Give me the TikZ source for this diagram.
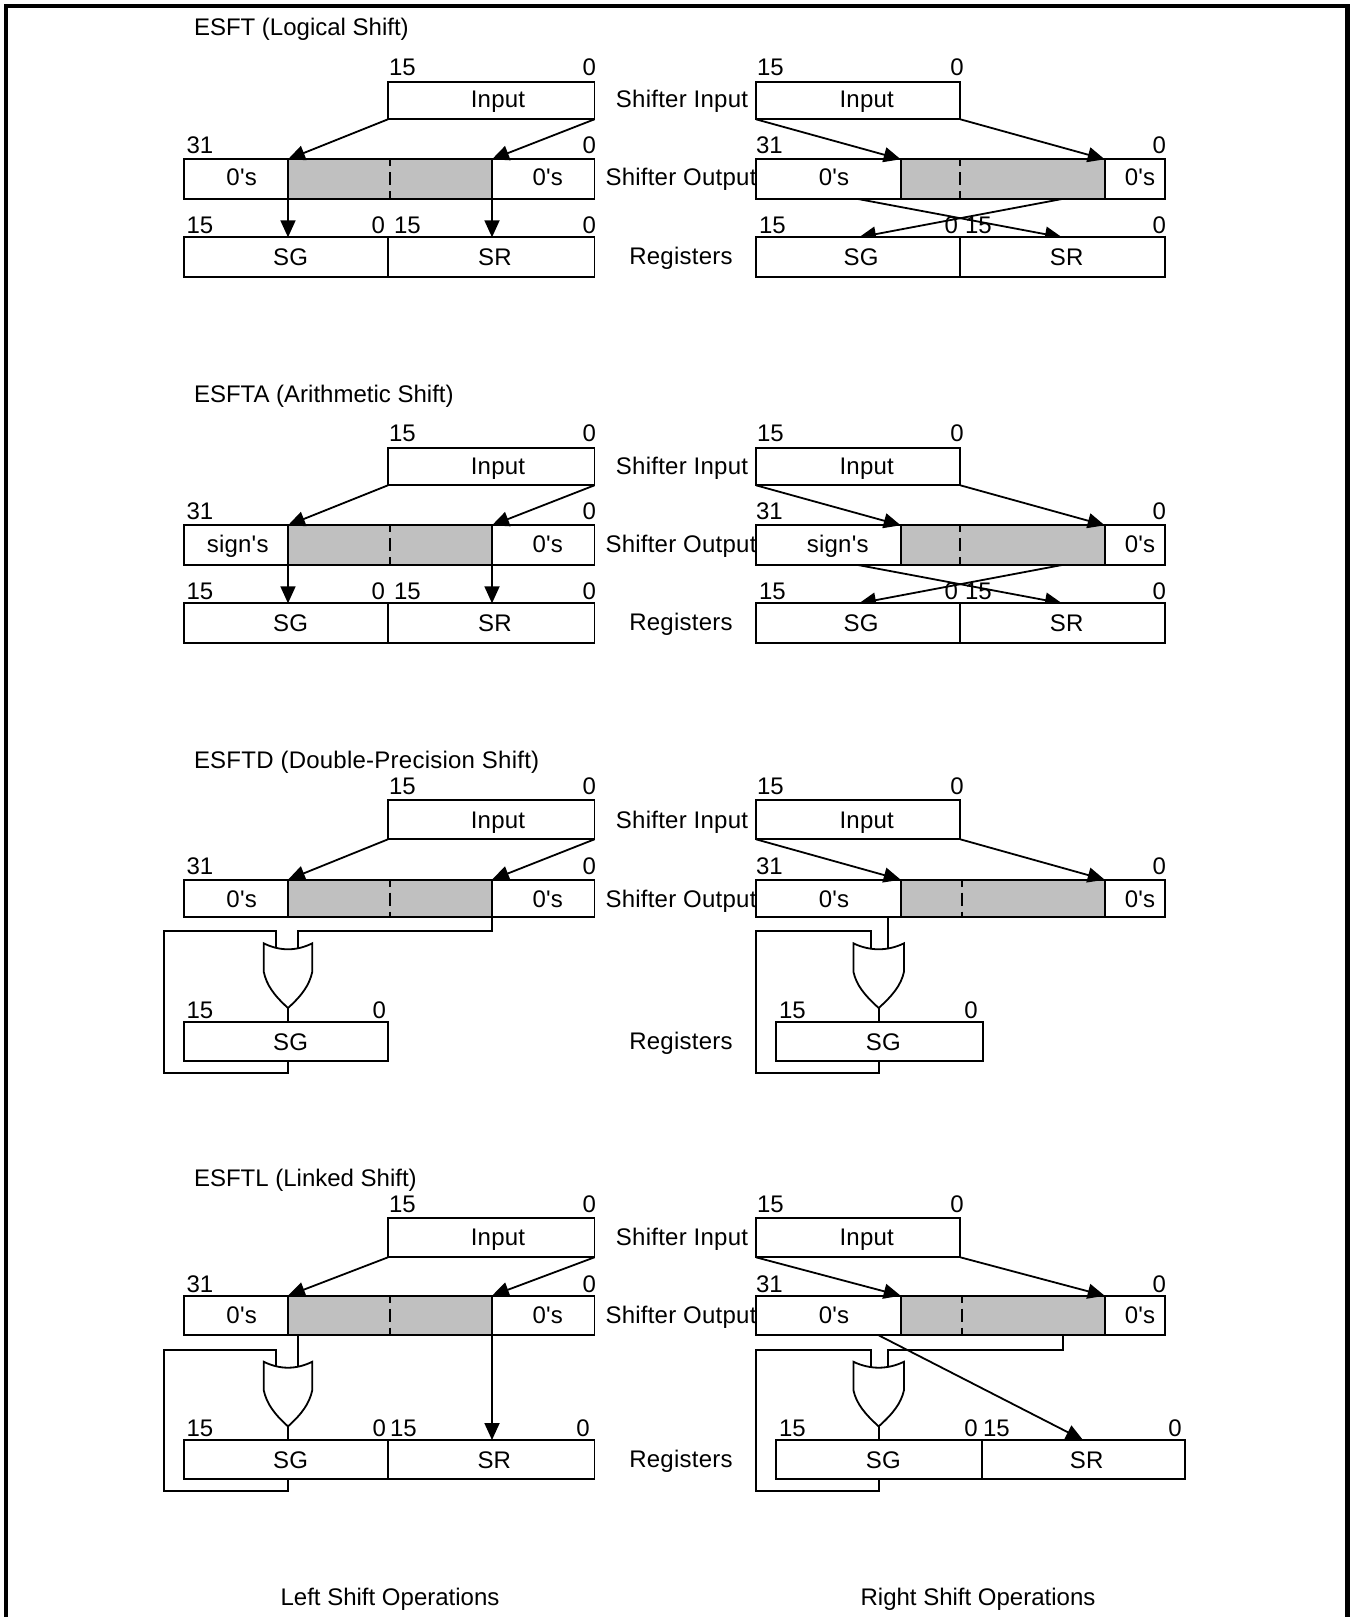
\documentclass[tikz,border=0pt]{standalone}
\usepackage{fontspec}
\newfontfamily\arialn{Liberation Sans}
\newfontfamily\arials[LetterSpace=1.0]{Liberation Sans}
\usetikzlibrary{arrows.meta,calc}
\definecolor{graybar}{HTML}{C0C0C0}
\newcounter{tn}
\tikzset{
  boxn/.style={draw=black,line width=1.8pt,fill=white,inner sep=0pt,outer sep=0pt},
  grayn/.style={boxn,fill=graybar},
  txtc/.style={inner sep=0pt,outer sep=0pt,anchor=base,font=\arials\fontsize{24}{24}\selectfont},
  txtn/.style={txtc,font=\arialn\fontsize{24}{24}\selectfont},
  txtw/.style={txtc,anchor=base west,font=\arialn\fontsize{24}{24}\selectfont},
  txte/.style={txtc,anchor=base east,font=\arialn\fontsize{24}{24}\selectfont},
  wire/.style={draw=black,line width=1.8pt},
  arrowed/.style={wire,-{Triangle[length=17pt,width=15pt]}},
  dashn/.style={draw=black,line width=1.8pt,dash pattern=on 13pt off 6pt,dash phase=6pt},
  gaten/.style={draw=black,line width=1.8pt,fill=white},
  framen/.style={draw=black,line width=4.5pt}
}
\newcommand{\bx}[6][boxn]{\node[#1,minimum width={(#5-#3)*1pt},minimum height={(#6-#4)*1pt}] (#2) at ({(#3+#5)/2},{(#4+#6)/2}) {};}
\newcommand{\tc}[3]{\stepcounter{tn}\node[txtc] (t\arabic{tn}) at (#1,#2) {#3};}
\newcommand{\tm}[3]{\stepcounter{tn}\node[txtn] (t\arabic{tn}) at (#1,#2) {#3};}
\newcommand{\tw}[3]{\stepcounter{tn}\node[txtw] (t\arabic{tn}) at (#1,#2) {#3};}
\newcommand{\te}[3]{\stepcounter{tn}\node[txte] (t\arabic{tn}) at (#1,#2) {#3};}
% #1 prefix, #2 input top, #3 input bottom, #4 output top, #5 output bottom,
% #6 x of left text, #7 left text, #8 x of right text, #9 right text
\newcommand{\toprows}[9]{%
  \bx{#1Lin}{388}{#2}{594.5}{#3}
  \bx{#1Rin}{756}{#2}{960.3}{#3}
  \bx{#1La}{184}{#4}{288}{#5}
  \bx[grayn]{#1Lg}{288}{#4}{492}{#5}
  \bx{#1Lb}{492}{#4}{594.5}{#5}
  \bx{#1Ra}{756}{#4}{900.7}{#5}
  \bx[grayn]{#1Rg}{900.7}{#4}{1104.7}{#5}
  \bx{#1Rb}{1104.7}{#4}{1164.7}{#5}
  \coordinate (#1Ld) at (390,#4);
  \coordinate (#1Rd) at (\dashR,#4);
  \draw[dashn] (#1Ld) -- (#1Ld |- #1Lg.south);
  \draw[dashn] (#1Rd) -- (#1Rd |- #1Rg.south);
  \tw{389}{#2-\numI}{15}
  \te{596}{#2-\numI}{0}
  \tw{757}{#2-\numI}{15}
  \te{963.7}{#2-\numI}{0}
  \tw{186.5}{#4-\numO}{31}
  \te{596}{#4-\numO}{0}
  \tw{756}{#4-\numO}{31}
  \te{1166}{#4-\numO}{0}
  \tc{498}{#2+\inB}{Input}
  \tc{866.7}{#2+\inB}{Input}
  \tc{682}{#2+\inB}{Shifter Input}
  \tc{681}{#4+\outB}{Shifter Output}
  \tc{#6}{#4+\outB}{#7}
  \tc{547.7}{#4+\outB}{0's}
  \tc{#8}{#4+\outB}{#9}
  \tc{1140}{#4+\outB}{0's}
  \draw[arrowed] (#1Lin.south west) -- (#1Lg.north west);
  \draw[arrowed] (#1Lin.south east) -- (#1Lg.north east);
  \draw[arrowed] (#1Rin.south west) -- (#1Rg.north west);
  \draw[arrowed] (#1Rin.south east) -- (#1Rg.north east);
}
% gate: #1 name, #2 centre x, #3 half width, #4 top y
\newcommand{\gate}[4]{%
  \begin{scope}[shift={(#2,#4)}]
    \coordinate (#1out) at (0,64.7);
    \draw[gaten] (-#3,0) .. controls (-#3+8,4) and (-8,6) .. (0,6)
      .. controls (8,6) and (#3-8,4) .. (#3,0) -- (#3,28.4)
      .. controls (#3-3,42) and (14,52) .. (0,64.7)
      .. controls (-14,52) and (-#3+3,42) .. (-#3,28.4) -- cycle;
  \end{scope}
}
\begin{document}
\begin{tikzpicture}[x=1pt,y=-1pt]
\useasboundingbox (0,0) rectangle (1350,1617);
\fill[white] (0,0) rectangle (1350,1617);
\draw[framen] (6,1617) -- (6,6) -- (1347.5,6) -- (1347.5,1617);

% ---------- titles
\tw{194}{35}{ESFT (Logical Shift)}
\tw{194}{402}{ESFTA (Arithmetic Shift)}
\tw{194}{768}{{\arials ESFTD (Double-Precision Shift)}}
\tw{194}{1186}{ESFTL (Linked Shift)}
\tm{390}{1605}{Left Shift Operations}
\tm{978}{1605}{Right Shift Operations}

% ---------- panel A
\def\numI{6}\def\numO{6}
\def\dashR{960.3}\def\inB{26}\def\outB{25.7}
\toprows{A}{81.7}{119.3}{159.3}{199}{241.7}{0's}{834}{0's}
\coordinate (ACa) at (858,199);\coordinate (ACb) at (1062,199);
\coordinate (ACc) at (1062,237.3);\coordinate (ACd) at (859,237.3);
\draw[arrowed] (ACa) -- (ACc);
\draw[arrowed] (ACb) -- (ACd);
\bx{ALsg}{184}{237.3}{388}{277.3}
\bx{ALsr}{388}{237.3}{594.5}{277.3}
\bx{ARsg}{756}{237.3}{960.3}{277.3}
\bx{ARsr}{960.3}{237.3}{1164.7}{277.3}
\tw{186.5}{233}{15}\te{385}{233}{0}\tw{394}{233}{15}\te{596}{233}{0}
\tw{759}{233}{15}\te{958}{233}{0}\tw{965}{233}{15}\te{1166}{233}{0}
\tc{290.7}{265}{SG}\tc{495}{265}{SR}\tc{861}{265}{SG}\tc{1066.7}{265}{SR}
\tc{681}{264}{Registers}
\draw[arrowed] (ALg.south west) -- (ALg.south west |- ALsg.north);
\draw[arrowed] (ALg.south east) -- (ALg.south east |- ALsr.north);

% ---------- panel B
\def\inB{26.3}\def\outB{26.7}
\toprows{B}{447.7}{485.3}{525.3}{565}{237.7}{sign's}{837.7}{sign's}
\coordinate (BCa) at (858,565);\coordinate (BCb) at (1062,565);
\coordinate (BCc) at (1062,603.3);\coordinate (BCd) at (859,603.3);
\draw[arrowed] (BCa) -- (BCc);
\draw[arrowed] (BCb) -- (BCd);
\bx{BLsg}{184}{603.3}{388}{643.3}
\bx{BLsr}{388}{603.3}{594.5}{643.3}
\bx{BRsg}{756}{603.3}{960.3}{643.3}
\bx{BRsr}{960.3}{603.3}{1164.7}{643.3}
\tw{186.5}{599}{15}\te{385}{599}{0}\tw{394}{599}{15}\te{596}{599}{0}
\tw{759}{599}{15}\te{958}{599}{0}\tw{965}{599}{15}\te{1166}{599}{0}
\tc{290.7}{631}{SG}\tc{495}{631}{SR}\tc{861}{631}{SG}\tc{1066.7}{631}{SR}
\tc{681}{630}{Registers}
\draw[arrowed] (BLg.south west) -- (BLg.south west |- BLsg.north);
\draw[arrowed] (BLg.south east) -- (BLg.south east |- BLsr.north);

% ---------- panel C
\def\numI{5.3}\def\numO{5}
\def\dashR{962}\def\inB{28.3}\def\outB{27.3}
\toprows{C}{799.7}{839.3}{879.7}{917.3}{241.7}{0's}{834}{0's}
\bx{CLsg}{184}{1021.7}{388}{1061.3}
\bx{CRsg}{776}{1021.7}{982.7}{1061.3}
\tw{186.5}{1018}{15}\te{386}{1018}{0}\tw{779}{1018}{15}\te{977.7}{1018}{0}
\tc{290.7}{1050}{SG}\tc{883.3}{1050}{SG}
\tc{681}{1049}{Registers}
\coordinate (CLia) at (276,950);\coordinate (CLib) at (298,950);
\coordinate (CLloop) at (164,931);\coordinate (CLback) at (288,1073.3);
\draw[wire] (CLg.south east) -- ++(0,14) -| (CLib);
\draw[wire] (CLia) |- (CLloop) |- (CLback) -- (CLback |- CLsg.south);
\coordinate (CRia) at (870.7,950);\coordinate (CRib) at (888,950);
\coordinate (CRloop) at (756,931);\coordinate (CRback) at (878.7,1073.3);
\draw[wire] (CRib |- CRa.south) -- (CRib);
\draw[wire] (CRia) |- (CRloop) |- (CRback) -- (CRback |- CRsg.south);
\gate{CLgt}{288}{24.3}{943.3}
\gate{CRgt}{878.7}{25.3}{943.3}
\draw[wire] (CLgtout) -- (CLgtout |- CLsg.north);
\draw[wire] (CRgtout) -- (CRgtout |- CRsg.north);

% ---------- panel D
\def\numI{5.3}\def\numO{3.5}
\def\inB{27.5}\def\outB{27.3}
\toprows{D}{1217.7}{1257.3}{1295.7}{1335.3}{241.7}{0's}{834}{0's}
\coordinate (DDa) at (878.7,1335.3);\coordinate (DDb) at (1083,1440);
\draw[arrowed] (DDa) -- (DDb);
\bx{DLsg}{184}{1440}{388}{1479.3}
\bx{DLsr}{388}{1440}{594.5}{1479.3}
\bx{DRsg}{776}{1440}{982.3}{1479.3}
\bx{DRsr}{982.3}{1440}{1184.7}{1479.3}
\tw{186.5}{1436}{15}\te{386}{1436}{0}\tw{390}{1436}{15}\te{589.7}{1436}{0}
\tw{779}{1436}{15}\te{977.7}{1436}{0}\tw{983}{1436}{15}\te{1181.7}{1436}{0}
\tc{290.7}{1468}{SG}\tc{494.3}{1468}{SR}\tc{883.3}{1468}{SG}\tc{1086.7}{1468}{SR}
\tc{681}{1467}{Registers}
\coordinate (DLia) at (276,1368);\coordinate (DLib) at (298,1368);
\coordinate (DLloop) at (164,1350);\coordinate (DLback) at (288,1491.3);
\draw[wire] (DLib |- DLg.south) -- (DLib);
\draw[wire] (DLia) |- (DLloop) |- (DLback) -- (DLback |- DLsg.south);
\draw[arrowed] (DLg.south east) -- (DLg.south east |- DLsr.north);
\coordinate (DRia) at (870.7,1368);\coordinate (DRib) at (888,1368);
\coordinate (DRfrom) at (1062.7,1335.3);\coordinate (DRloop) at (756,1350);
\coordinate (DRback) at (878.7,1491.3);
\draw[wire] (DRfrom) -- ++(0,15) -| (DRib);
\draw[wire] (DRia) |- (DRloop) |- (DRback) -- (DRback |- DRsg.south);
\gate{DLgt}{288}{24.3}{1361.7}
\gate{DRgt}{878.7}{25.3}{1361.7}
\draw[wire] (DLgtout) -- (DLgtout |- DLsg.north);
\draw[wire] (DRgtout) -- (DRgtout |- DRsg.north);
\end{tikzpicture}
\end{document}
